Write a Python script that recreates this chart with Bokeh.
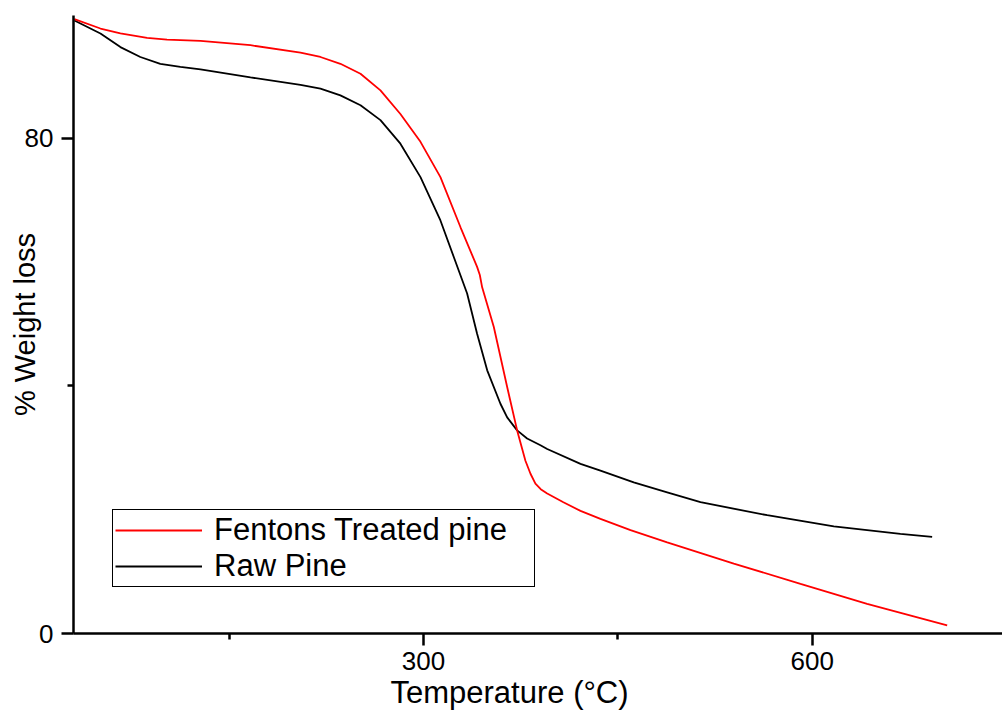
from bokeh.plotting import figure
from bokeh.models import ColumnDataSource, FixedTicker, Legend, LegendItem, Range1d, Title
from bokeh.embed import file_html
from bokeh.resources import INLINE

# ---- data ----
fenton_temp = [30.6, 50.7, 66.1, 86.7, 102.1, 127.9, 166.5, 205.1, 220.5, 235.9, 251.4, 266.8,
               282.2, 297.7, 313.1, 328.6, 341.4, 343.5, 345.3, 354.3, 364.6, 372.3, 378.7,
               382.6, 386.4, 390.5, 395.5, 408.0, 421.2, 436.6, 459.8, 488.1, 539.5, 591.0,
               642.4, 704.2]
fenton_wt = [99.2, 97.7, 96.9, 96.2, 95.9, 95.7, 95.0, 93.8, 93.1, 92.0, 90.4, 87.7,
             83.9, 79.4, 73.7, 65.6, 59.2, 57.9, 55.9, 49.5, 39.8, 32.8, 27.9,
             25.8, 24.2, 23.3, 22.6, 21.2, 19.8, 18.5, 16.7, 14.7, 11.3, 8.0,
             4.8, 1.3]

raw_temp = [30.6, 50.7, 66.1, 81.5, 96.9, 112.4, 127.9, 166.5, 205.1, 220.5, 235.9, 251.4,
            266.8, 282.2, 297.7, 313.1, 323.4, 333.7, 341.4, 349.2, 359.4, 364.6, 372.3,
            380.0, 390.3, 395.5, 421.2, 436.6, 462.3, 488.1, 513.8, 565.3, 616.7, 668.1, 692.6]
raw_wt = [99.0, 96.9, 94.7, 93.1, 92.0, 91.5, 91.1, 89.8, 88.6, 88.0, 86.9, 85.3,
          82.9, 79.1, 73.7, 66.7, 60.8, 54.9, 48.4, 42.5, 37.1, 34.9, 32.8,
          31.5, 30.4, 29.8, 27.4, 26.3, 24.4, 22.8, 21.2, 19.1, 17.3, 16.1, 15.6]

series_names = ["Fentons Treated pine", "Raw Pine"]
series_colors = ["#FF0000", "#000000"]

x_major_ticks = [300, 600]
x_minor_ticks = [150, 450]
y_major_ticks = [0, 80]
y_minor_ticks = [40]

x_title = "Temperature (\u00b0C)"
y_title = "% Weight loss"

FONT = "Liberation Sans"

p = figure(width=1002, height=718, output_backend="svg", toolbar_location=None,
           x_range=Range1d(29.9, 746.9), y_range=Range1d(0, 99.8),
           min_border_left=73, min_border_right=0, min_border_top=15, min_border_bottom=85)
p.outline_line_color = None
p.xgrid.visible = False
p.ygrid.visible = False
p.background_fill_color = "white"
p.border_fill_color = "white"

for ax, (maj, mnr) in ((p.xaxis[0], (x_major_ticks, x_minor_ticks)),
                       (p.yaxis[0], (y_major_ticks, y_minor_ticks))):
    ax.ticker = FixedTicker(ticks=maj, minor_ticks=mnr)
    ax.axis_line_width = 2.5
    ax.axis_line_color = "black"
    ax.major_tick_line_width = 2.5
    ax.minor_tick_line_width = 2.5
    ax.major_tick_line_color = "black"
    ax.minor_tick_line_color = "black"
    ax.major_tick_in = 0
    ax.major_tick_out = 12
    ax.minor_tick_in = 0
    ax.minor_tick_out = 6
    ax.major_label_text_font = FONT
    ax.major_label_text_font_size = "26px"
    ax.major_label_text_color = "black"

p.xaxis[0].major_label_standoff = 6
p.yaxis[0].major_label_standoff = 8

yax = p.yaxis[0]
yax.axis_label = y_title
yax.axis_label_text_font = FONT
yax.axis_label_text_font_size = "29px"
yax.axis_label_text_font_style = "normal"
yax.axis_label_text_color = "black"
yax.axis_label_standoff = -19

p.add_layout(Title(text=x_title, align="left", offset=317, standoff=0,
                   text_font=FONT, text_font_size="31px", text_font_style="normal",
                   text_color="black"), "below")

src_f = ColumnDataSource(dict(x=fenton_temp, y=fenton_wt))
src_r = ColumnDataSource(dict(x=raw_temp, y=raw_wt))
r_raw = p.line("x", "y", source=src_r, line_color=series_colors[1], line_width=1.8)
r_fen = p.line("x", "y", source=src_f, line_color=series_colors[0], line_width=1.8)

legend = Legend(items=[LegendItem(label=series_names[0], renderers=[r_fen]),
                       LegendItem(label=series_names[1], renderers=[r_raw])],
                location=(39, 46), margin=0, padding=2, spacing=0,
                glyph_width=87, glyph_height=30, label_height=30, label_standoff=12,
                label_width=318,
                label_text_font=FONT, label_text_font_size="31px", label_text_color="black",
                border_line_color="black", border_line_width=1.5, border_line_alpha=1.0,
                background_fill_color="white", background_fill_alpha=1.0)
p.add_layout(legend, "center")

open("out.html", "w").write(file_html(p, INLINE))
